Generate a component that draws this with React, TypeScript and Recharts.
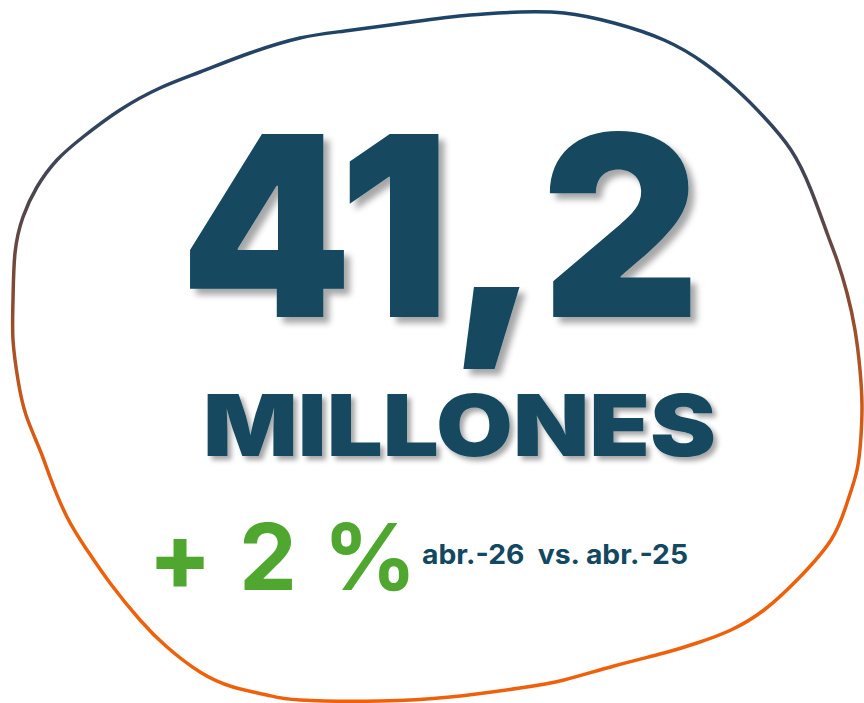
import React from 'react';
import { LineChart, Line, XAxis, YAxis, Customized } from 'recharts';

// Outline of the hand-drawn blob (clockwise from the top)
const blobX = [520, 564, 614, 664, 704, 737, 764, 791, 811, 827, 837, 847, 855, 860, 862, 861, 857, 847, 831, 797, 764, 731, 697, 664, 614, 564, 520, 450, 380, 300, 267, 233, 200, 167, 140, 110, 87, 67, 50, 40, 26, 18, 13, 13, 15, 23, 37, 57, 83, 120, 160, 200, 250, 300, 345, 412, 470, 520];
const blobY = [12, 13, 23, 40, 63, 90, 117, 150, 190, 233, 260, 293, 330, 370, 405, 436, 470, 503, 540, 580, 610, 630, 643, 653, 666, 680, 688, 697, 701, 700, 695, 687, 672, 647, 620, 583, 550, 517, 477, 450, 415, 380, 340, 300, 253, 217, 187, 160, 137, 110, 88, 72, 53, 38, 31, 22, 15, 12];

// KPI texts
const mainValue = '41,2';
const unitLabel = 'MILLONES';
const changeSign = '+';
const changeValue = '2';
const changeUnit = '%';
const periodLabel = 'abr.-26  vs. abr.-25';

const blobData = blobX.map((x, i) => ({ x, y: blobY[i] }));

const NAVY = '#124861';
const GREEN = '#4fa72f';
const FONT = 'Inter, "Open Sans", Lato, sans-serif';

const KpiTexts = () => (
  <g>
    <text
      x={180}
      y={317}
      fontFamily={FONT}
      fontWeight={900}
      fontSize={252}
      fill={NAVY}
      textLength={520}
      lengthAdjust="spacingAndGlyphs"
      filter="url(#shadowBig)"
    >
      {mainValue}
    </text>
    <text
      x={203}
      y={456}
      fontFamily={FONT}
      fontWeight={900}
      fontSize={85}
      fill={NAVY}
      textLength={513}
      lengthAdjust="spacingAndGlyphs"
      filter="url(#shadowSmall)"
    >
      {unitLabel}
    </text>
    <text x={180} y={590} textAnchor="middle" fontFamily={FONT} fontWeight={800} fontSize={92} fill={GREEN}>
      {changeSign}
    </text>
    <text x={268} y={590} textAnchor="middle" fontFamily={FONT} fontWeight={700} fontSize={92} fill={GREEN}>
      {changeValue}
    </text>
    <text x={370} y={590} textAnchor="middle" fontFamily={FONT} fontWeight={700} fontSize={92} fill={GREEN}>
      {changeUnit}
    </text>
    <text
      x={422}
      y={564}
      fontFamily={FONT}
      fontWeight={700}
      fontSize={27}
      fill={NAVY}
      textLength={266}
      lengthAdjust="spacingAndGlyphs"
      style={{ whiteSpace: 'pre' }}
    >
      {periodLabel}
    </text>
  </g>
);

export default function App() {
  return (
    <div style={{ position: 'absolute', left: 0, top: 0, width: 864, height: 703, background: '#ffffff' }}>
      <LineChart width={864} height={703} data={blobData} margin={{ top: 0, right: 0, bottom: 0, left: 0 }}>
        <defs>
          <linearGradient id="blobGrad" gradientUnits="userSpaceOnUse" x1={0} y1={0} x2={0} y2={703}>
            <stop offset="0.02" stopColor="#1d4468" />
            <stop offset="0.16" stopColor="#2d4360" />
            <stop offset="0.27" stopColor="#4a4550" />
            <stop offset="0.36" stopColor="#6a4840" />
            <stop offset="0.43" stopColor="#8a4a30" />
            <stop offset="0.55" stopColor="#c0561f" />
            <stop offset="0.64" stopColor="#e05c12" />
            <stop offset="0.8" stopColor="#ef600a" />
            <stop offset="1" stopColor="#f0600a" />
          </linearGradient>
          <filter id="shadowBig" x="-10%" y="-10%" width="130%" height="130%">
            <feDropShadow dx={6} dy={6} stdDeviation={3} floodColor="#000000" floodOpacity={0.35} />
          </filter>
          <filter id="shadowSmall" x="-10%" y="-20%" width="130%" height="150%">
            <feDropShadow dx={4} dy={4} stdDeviation={2.5} floodColor="#000000" floodOpacity={0.35} />
          </filter>
        </defs>
        <XAxis type="number" dataKey="x" domain={[0, 864]} hide />
        <YAxis type="number" domain={[0, 703]} reversed hide />
        <Line
          type="natural"
          dataKey="y"
          stroke="url(#blobGrad)"
          strokeWidth={3.5}
          dot={false}
          activeDot={false}
          isAnimationActive={false}
        />
        <Customized component={KpiTexts} />
      </LineChart>
    </div>
  );
}
